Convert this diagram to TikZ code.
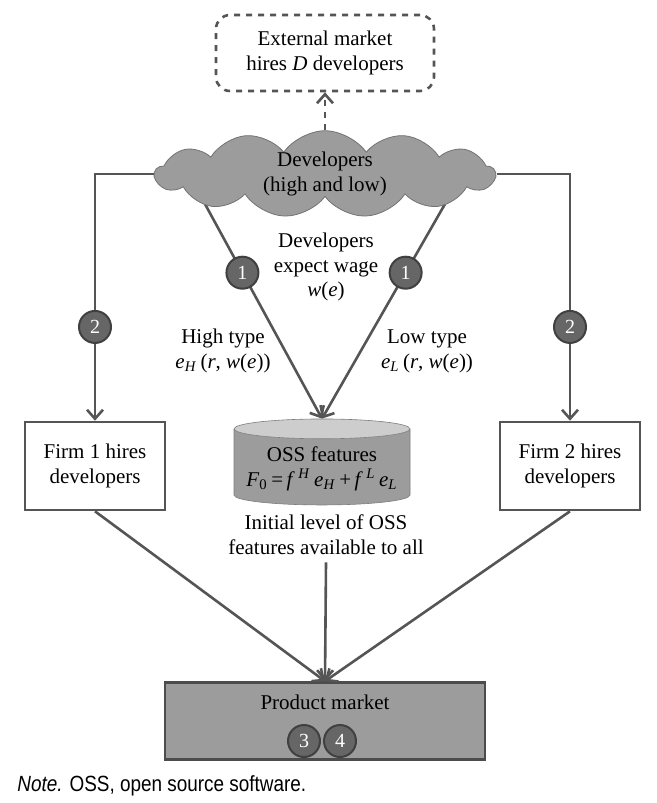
\documentclass[tikz,border=0pt]{standalone}
\usepackage{fontspec}
\setmainfont{Liberation Serif}
\newfontfamily\notefont[FakeStretch=0.86]{Liberation Sans}
\usetikzlibrary{positioning, calc, backgrounds, shapes.symbols, shapes.geometric, arrows.meta}
\definecolor{lineg}{HTML}{555555}
\definecolor{fillg}{HTML}{9C9C9C}
\definecolor{topg}{HTML}{CDCDCD}
\definecolor{numg}{HTML}{666666}
\tikzset{
  conn/.style={draw=lineg, line width=1.3pt, -{Straight Barb[length=4.5pt,width=8pt]}},
  numc/.style={circle, fill=numg, draw=black!75, line width=1pt, text=white,
    minimum size=16pt, inner sep=0pt, font=\fontsize{10}{10}\selectfont},
  firmbox/.style={draw=lineg, line width=1.3pt, fill=white, minimum width=70pt,
    minimum height=44pt, align=center},
}
\begin{document}
\fontsize{10.5}{12.4}\selectfont
\begin{tikzpicture}[x=0.5pt, y=-0.5pt]
\useasboundingbox (0,0) rectangle (657,803);
%
\node[draw=lineg, dashed, line width=1.3pt, rounded corners=7pt, minimum width=109pt,
      minimum height=38pt, align=center] (ext) at (325,53) {External market\\hires \textit{D} developers};
\node[cloud, cloud puffs=13, cloud puff arc=110, aspect=3.4, fill=fillg, draw=black!55,
      line width=0.4pt, inner sep=0pt, minimum width=170pt, align=center]
      (dev) at (325,174) {Developers\\(high and low)};
\node[firmbox] (firm1) at (95,466) {Firm 1 hires\\developers};
\node[firmbox] (firm2) at (570,466) {Firm 2 hires\\developers};
\node[cylinder, shape border rotate=90, aspect=0.12, cylinder uses custom fill,
      cylinder body fill=fillg, cylinder end fill=topg, draw=fillg!80!black, line width=0.3pt,
      minimum width=88pt, minimum height=43pt, align=center] (oss) at (322,469)
      {OSS features\\\textit{F}\textsubscript{0}\,=\,\textit{f}\,\textsuperscript{\textit{H}}\,\textit{e}\textsubscript{\textit{H}}\,+\,\textit{f}\,\textsuperscript{\textit{L}}\,\textit{e}\textsubscript{\textit{L}}};
\node[draw=black!70, fill=fillg, line width=1.3pt, minimum width=160pt, minimum height=38.5pt] (prod) at (325,721) {};
\node[below=3pt of prod.north] (prodtxt) {Product market};
\node[numc] (n3) at (304,741) {3};
\node[numc] (n4) at (340,741) {4};
%
\node[align=center] (wage) at (326,267) {Developers\\expect wage\\\textit{w}(\textit{e})};
\node[align=center] (high) at (223,351) {High type\\\textit{e}\textsubscript{\textit{H}}\,(\textit{r}, \textit{w}(\textit{e}))};
\node[align=center] (low) at (427,351) {Low type\\\textit{e}\textsubscript{\textit{L}}\,(\textit{r}, \textit{w}(\textit{e}))};
\node[align=center] (init) at (326,535) {Initial level of OSS\\features available to all};
\node[anchor=west, font=\notefont\fontsize{11}{12}\selectfont] (note) at (10,786) {\textit{Note.} OSS, open source software.};
%
\coordinate (hstart) at ($(dev.center)+(-120,30)$);
\coordinate (lstart) at ($(dev.center)+(120,30)$);
\begin{scope}[on background layer]
\draw[conn] (hstart) -- node[numc, pos=0.32] {1} (oss.north);
\draw[conn] (lstart) -- node[numc, pos=0.32] {1} (oss.north);
\end{scope}
\draw[conn, dashed] (dev.north) -- (ext.south);
\draw[conn] (dev.west) -| node[numc, pos=0.81] {2} (firm1.north);
\draw[conn] (dev.east) -| node[numc, pos=0.81] {2} (firm2.north);
\draw[conn] (init.south) -- (prod.north);
\draw[conn] (firm1.south) -- (prod.north);
\draw[conn] (firm2.south) -- (prod.north);
%
\end{tikzpicture}
\end{document}
